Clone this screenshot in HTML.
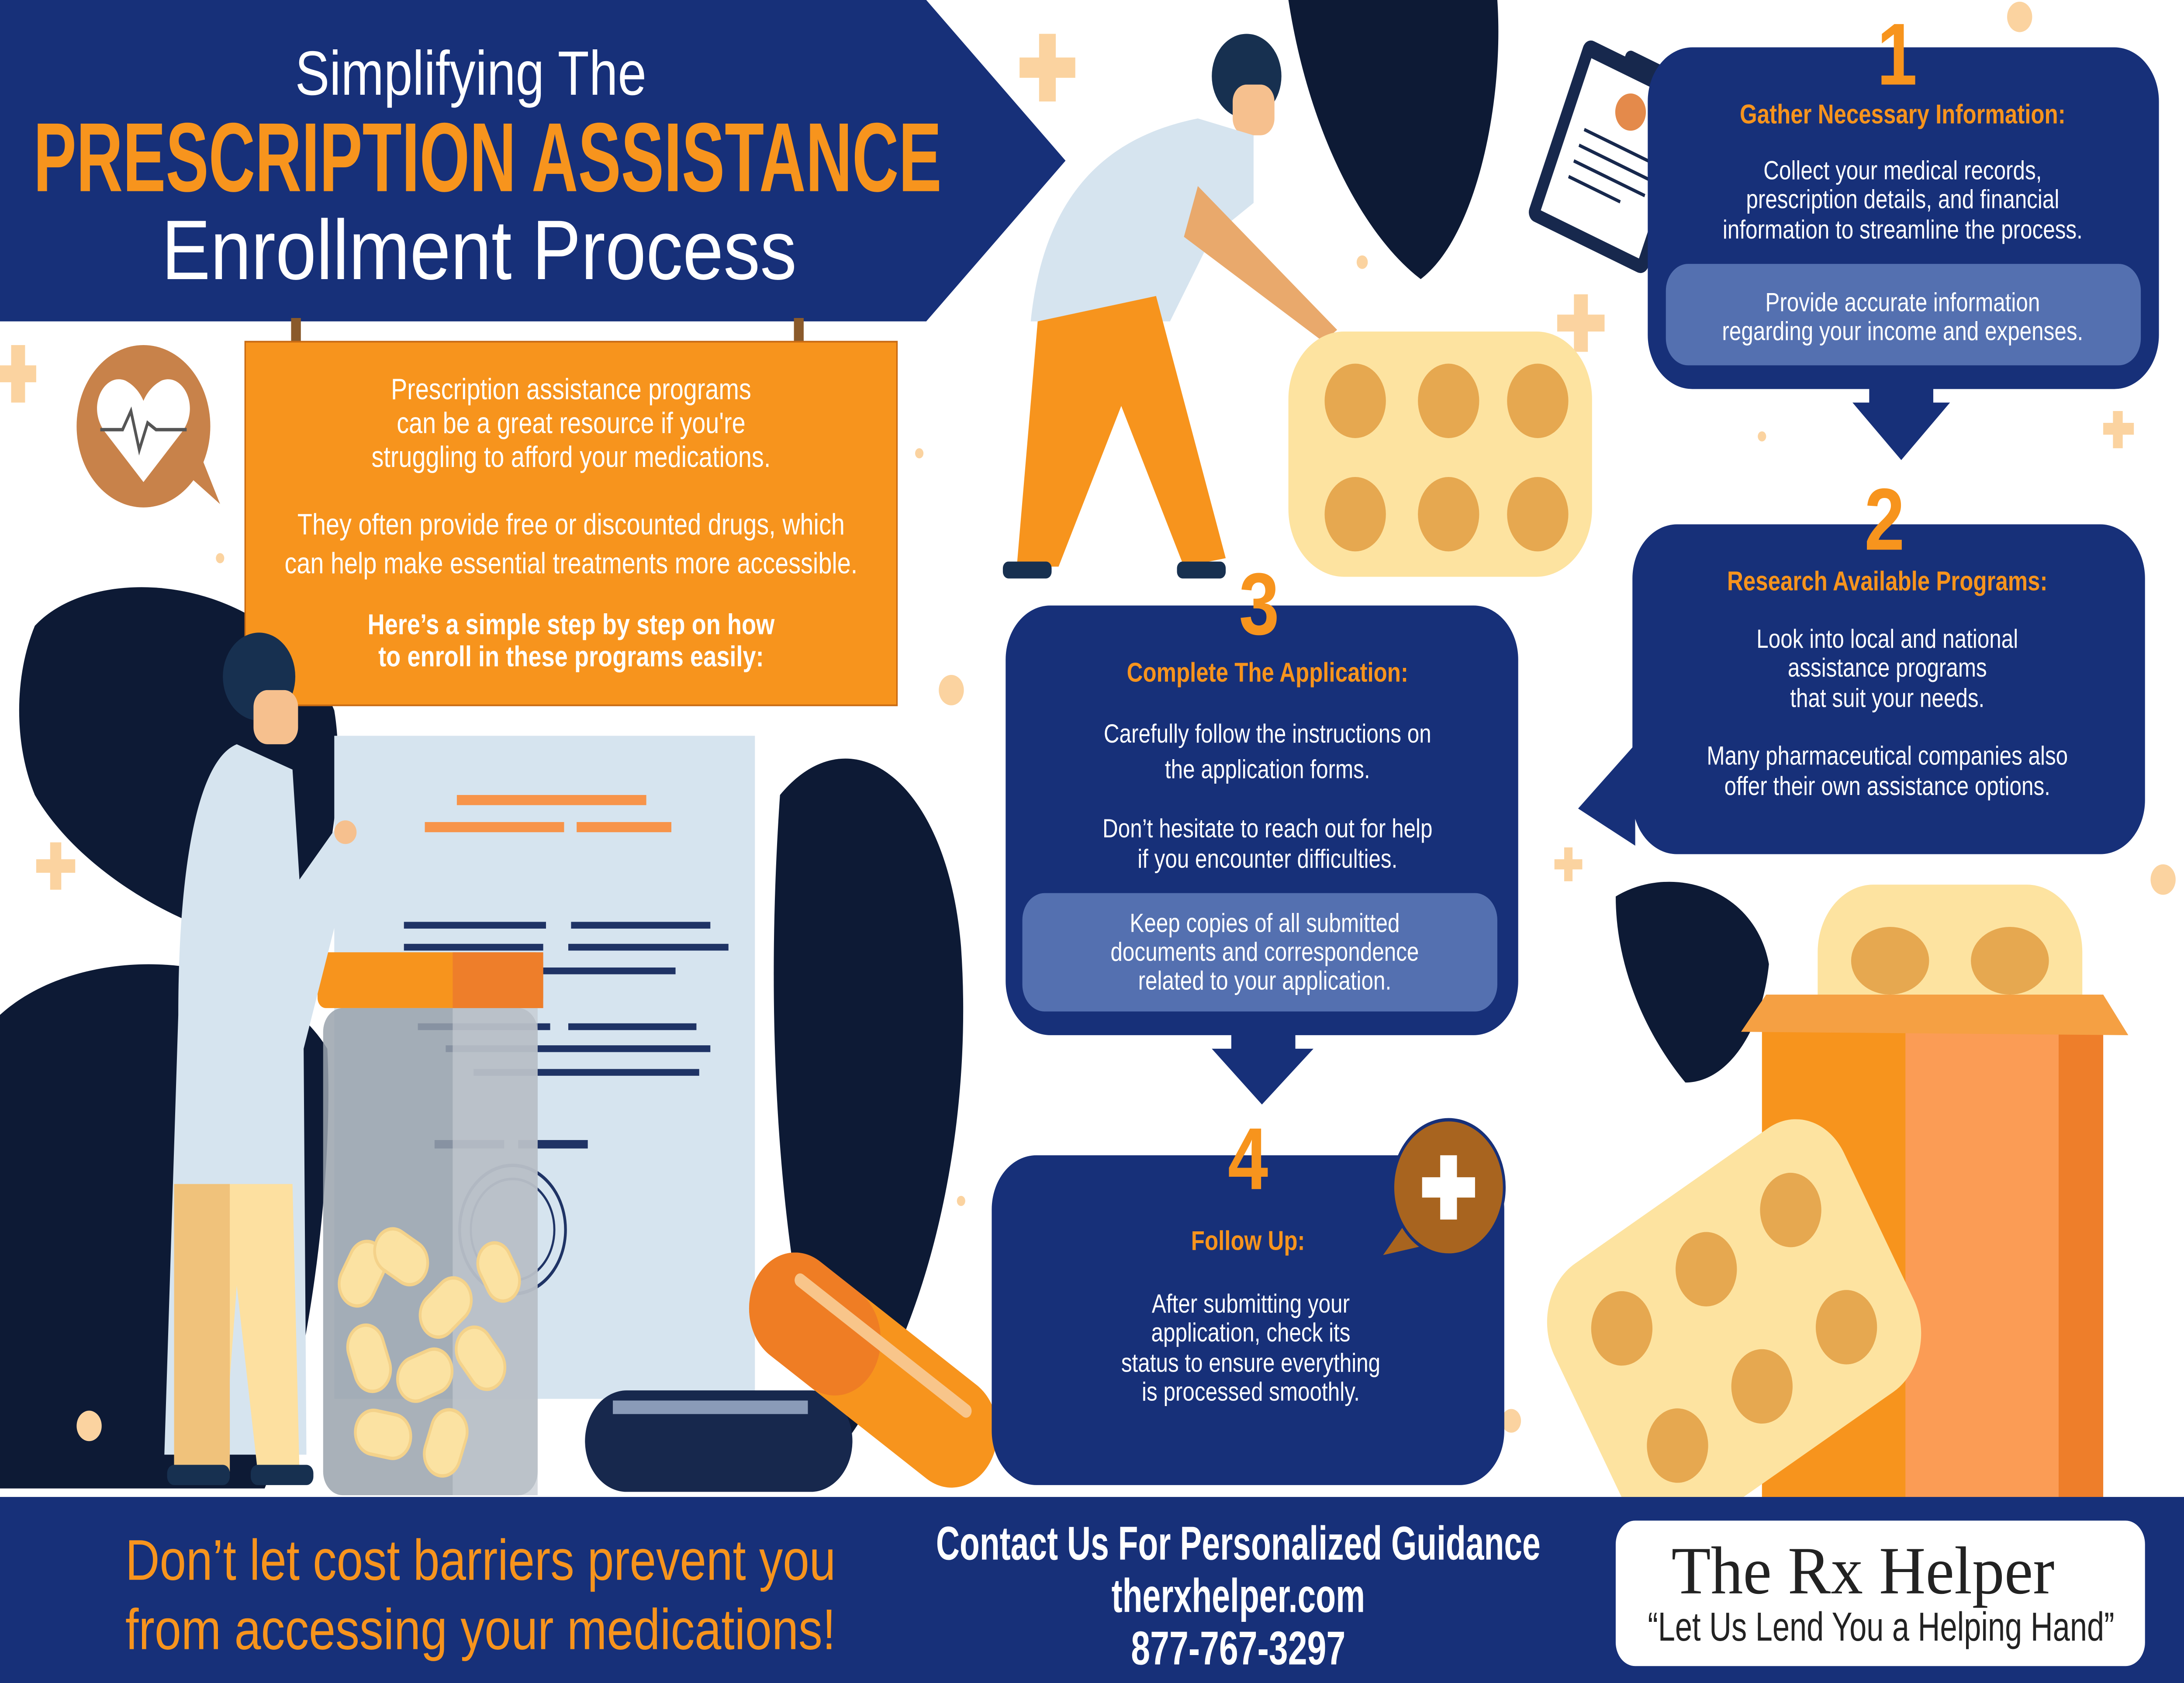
<!DOCTYPE html>
<html><head><meta charset="utf-8">
<style>
html,body{margin:0;padding:0;width:100%;height:100%;overflow:hidden;background:#fff}
svg{display:block;width:100vw;height:100vh}
text{font-family:"Liberation Sans",sans-serif}
.w{fill:#fff}
.h{fill:#f7941d;font-weight:bold;font-size:16px}
.t{fill:#fff;font-size:15.5px}
.n{fill:#f7941d;font-weight:bold;font-size:52px}
</style></head><body>
<svg viewBox="0 0 1568 995" preserveAspectRatio="none">
 <rect width="1568" height="995" fill="#fff"/>
 <g fill="#0d1a35">
  <path d="M25 370 C70 330 200 340 240 420 C250 470 230 540 215 560 C150 560 60 520 25 470 C10 440 10 400 25 370Z"/>
  <path d="M0 600 C60 555 190 560 235 620 C240 700 220 820 190 880 L0 880Z"/>
  <path d="M560 470 C610 420 680 460 690 560 C700 680 660 800 600 860 C570 790 545 650 560 470Z"/>
  <path d="M925 0 L1075 0 C1080 60 1060 140 1020 165 C980 140 940 80 925 0Z"/>
  <path d="M1160 530 C1200 510 1260 525 1270 570 C1265 610 1240 640 1210 640 C1180 610 1160 570 1160 530Z"/>
 </g>
 <polygon points="0,0 665,0 765,95 665,190 0,190" fill="#173079"/>
 <rect x="209" y="188" width="7" height="16" fill="#8a5a2b"/><rect x="570" y="188" width="7" height="16" fill="#8a5a2b"/>
 <g fill="#fbd3a0">
  <rect x="732" y="34" width="40" height="12"/><rect x="746" y="20" width="12" height="40"/>
  <rect x="1118" y="186" width="34" height="10"/><rect x="1130" y="174" width="10" height="34"/>
  <rect x="0" y="216" width="26" height="10"/><rect x="8" y="204" width="10" height="34"/>
  <rect x="26" y="508" width="28" height="8"/><rect x="36" y="498" width="8" height="28"/>
  <rect x="1510" y="250" width="22" height="7"/><rect x="1517" y="243" width="7" height="22"/>
  <rect x="1116" y="508" width="20" height="6"/><rect x="1123" y="501" width="6" height="20"/>
  <circle cx="683" cy="408" r="9"/><circle cx="1450" cy="10" r="9"/><circle cx="1553" cy="520" r="9"/><circle cx="64" cy="843" r="9"/><circle cx="978" cy="155" r="4"/><circle cx="660" cy="268" r="3"/><circle cx="158" cy="330" r="3"/><circle cx="1265" cy="258" r="3"/><circle cx="690" cy="710" r="3"/><circle cx="1085" cy="840" r="7"/>
 </g>
 <polygon points="120,270 158,298 130,240" fill="#c8824a"/>
 <circle cx="103" cy="252" r="48" fill="#c8824a"/>
 <path d="M103 285 L75 255 C62 240 75 220 90 225 C97 228 101 233 103 237 C105 233 109 228 116 225 C131 220 144 240 131 255Z" fill="#fff"/>
 <polyline points="72,254 88,254 94,243 100,266 106,250 112,254 134,254" fill="none" stroke="#555" stroke-width="2"/>
 <rect x="240" y="435" width="302" height="392" fill="#d6e4ef"/>
 <rect x="328" y="470" width="136" height="6" fill="#f7944a"/>
 <rect x="305" y="486" width="100" height="6" fill="#f7944a"/><rect x="414" y="486" width="68" height="6" fill="#f7944a"/>
 <g fill="#1f3365"><rect x="290" y="545" width="102" height="4"/><rect x="410" y="545" width="100" height="4"/><rect x="290" y="558" width="100" height="4"/><rect x="408" y="558" width="115" height="4"/><rect x="300" y="572" width="185" height="4"/><rect x="300" y="605" width="95" height="4"/><rect x="408" y="605" width="92" height="4"/><rect x="320" y="618" width="190" height="4"/><rect x="340" y="632" width="162" height="4"/><rect x="312" y="674" width="50" height="5"/><rect x="372" y="674" width="50" height="5"/></g>
 <circle cx="368" cy="727" r="38" fill="none" stroke="#1f3365" stroke-width="2"/><circle cx="368" cy="727" r="30" fill="none" stroke="#1f3365" stroke-width="1.5"/>
 <rect x="228" y="563" width="162" height="33" rx="6" fill="#f7941d"/><rect x="325" y="563" width="65" height="33" fill="#ee7e2a"/>
 <rect x="232" y="596" width="154" height="288" rx="14" fill="#9aa3ad" opacity="0.85"/>
 <rect x="325" y="596" width="61" height="288" fill="#c3c9d0" opacity="0.7"/>
 <g fill="#fbe2a2" stroke="#f4d28a" stroke-width="2">
  <rect x="240" y="740" width="40" height="26" rx="13" transform="rotate(-60 260 753)"/>
  <rect x="268" y="730" width="40" height="26" rx="13" transform="rotate(30 288 743)"/>
  <rect x="300" y="760" width="40" height="26" rx="13" transform="rotate(-40 320 773)"/>
  <rect x="245" y="790" width="40" height="26" rx="13" transform="rotate(70 265 803)"/>
  <rect x="285" y="800" width="40" height="26" rx="13" transform="rotate(-20 305 813)"/>
  <rect x="325" y="790" width="40" height="26" rx="13" transform="rotate(50 345 803)"/>
  <rect x="255" y="835" width="40" height="26" rx="13" transform="rotate(10 275 848)"/>
  <rect x="300" y="840" width="40" height="26" rx="13" transform="rotate(-70 320 853)"/>
  <rect x="340" y="740" width="36" height="24" rx="12" transform="rotate(60 358 752)"/>
 </g>
 <path d="M170 440 C140 450 128 520 128 600 L118 860 L220 860 L218 620 L255 500 L245 485 L215 520 L210 455Z" fill="#d6e4ef"/>
 <path d="M125 700 L125 870 L160 870 L170 760 L185 870 L215 870 L210 700Z" fill="#fde0a0"/>
 <rect x="125" y="700" width="40" height="170" fill="#f0c27b"/>
 <ellipse cx="248" cy="492" rx="8" ry="7" fill="#f6c08e"/>
 <rect x="120" y="866" width="45" height="12" rx="5" fill="#173050"/><rect x="180" y="866" width="45" height="12" rx="5" fill="#173050"/>
 <rect x="420" y="822" width="192" height="60" rx="30" fill="#17284d"/><rect x="440" y="828" width="140" height="8" fill="#8a9bb8"/>
 <g transform="rotate(33 627 810)"><rect x="527" y="777" width="200" height="66" rx="33" fill="#f7941d"/><rect x="527" y="777" width="100" height="66" rx="33" fill="#ef7d24"/><rect x="550" y="790" width="150" height="8" rx="4" fill="#f8c58a"/></g>
 <circle cx="895" cy="45" r="25" fill="#173050"/>
 <rect x="885" y="50" width="30" height="30" rx="10" fill="#f6c08e"/>
 <path d="M860 70 C800 80 750 110 740 190 L840 190 L870 140 L900 120 L900 80Z" fill="#d6e4ef"/>
 <path d="M860 110 L960 195 L950 202 L850 140Z" fill="#e9a96c"/>
 <path d="M745 190 L830 175 L880 330 L850 335 L805 240 L760 335 L730 335Z" fill="#f7941d"/>
 <rect x="720" y="332" width="35" height="10" rx="4" fill="#173050"/><rect x="845" y="332" width="35" height="10" rx="4" fill="#173050"/>
 <rect x="925" y="196" width="218" height="145" rx="40" fill="#fde3a0"/>
 <g fill="#e6a850"><circle cx="973" cy="237" r="22"/><circle cx="1040" cy="237" r="22"/><circle cx="1104" cy="237" r="22"/><circle cx="973" cy="304" r="22"/><circle cx="1040" cy="304" r="22"/><circle cx="1104" cy="304" r="22"/></g>
 <g transform="rotate(22 1160 90)"><rect x="1115" y="35" width="92" height="115" rx="6" fill="#17284d"/><rect x="1123" y="45" width="76" height="97" fill="#fff"/><rect x="1145" y="30" width="32" height="14" rx="4" fill="#17284d"/><circle cx="1161" cy="64" r="11" fill="#e48a4b"/><rect x="1134" y="85" width="55" height="2" fill="#17284d"/><rect x="1134" y="95" width="55" height="2" fill="#17284d"/><rect x="1134" y="105" width="55" height="2" fill="#17284d"/><rect x="1134" y="115" width="40" height="2" fill="#17284d"/></g>
 <rect x="1305" y="523" width="190" height="110" rx="40" fill="#fde3a0"/>
 <g fill="#e6a850"><ellipse cx="1357" cy="568" rx="28" ry="20"/><ellipse cx="1443" cy="568" rx="28" ry="20"/></g>
 <rect x="1265" y="610" width="245" height="275" fill="#f7941d"/><rect x="1368" y="610" width="110" height="275" fill="#fb9c55"/><rect x="1478" y="610" width="32" height="275" fill="#ee7e2a"/>
 <polygon points="1250,610 1268,588 1510,588 1528,612" fill="#f5a043"/>
 <g transform="rotate(-30 1245 785)"><rect x="1125" y="695" width="240" height="180" rx="40" fill="#fde3a0"/><g fill="#e6a850"><circle cx="1175" cy="745" r="22"/><circle cx="1245" cy="745" r="22"/><circle cx="1315" cy="745" r="22"/><circle cx="1175" cy="825" r="22"/><circle cx="1245" cy="825" r="22"/><circle cx="1315" cy="825" r="22"/></g></g>

 <rect x="176" y="202" width="468" height="215" fill="#f7941d" stroke="#c86a12" stroke-width="1"/>
 <g text-anchor="middle">
  <text x="410" y="236" class="w" font-size="17.5">Prescription assistance programs</text>
  <text x="410" y="256" class="w" font-size="17.5">can be a great resource if you're</text>
  <text x="410" y="276" class="w" font-size="17.5">struggling to afford your medications.</text>
  <text x="410" y="316" class="w" font-size="17.5">They often provide free or discounted drugs, which</text>
  <text x="410" y="339" class="w" font-size="17.5">can help make essential treatments more accessible.</text>
  <text x="410" y="375" class="w" font-size="17" font-weight="bold">Here’s a simple step by step on how</text>
  <text x="410" y="394" class="w" font-size="17" font-weight="bold">to enroll in these programs easily:</text>
 </g>
 <!-- doctor head in front of box -->
 <circle cx="186" cy="400" r="26" fill="#173050"/>
 <rect x="182" y="408" width="32" height="32" rx="10" fill="#f6c08e"/>

 <text x="338" y="56" text-anchor="middle" class="w" font-size="37">Simplifying The</text>
 <text x="24" y="113" fill="#f7941d" font-size="58" font-weight="bold" textLength="652" lengthAdjust="spacingAndGlyphs">PRESCRIPTION ASSISTANCE</text>
 <text x="116" y="165" class="w" font-size="50" textLength="456" lengthAdjust="spacingAndGlyphs">Enrollment Process</text>

 <rect x="1183" y="28" width="367" height="202" rx="32" fill="#173079"/>
 <rect x="1196" y="156" width="341" height="60" rx="16" fill="#5470b0"/>
 <rect x="1172" y="310" width="368" height="195" rx="32" fill="#173079"/>
 <rect x="722" y="358" width="368" height="254" rx="32" fill="#173079"/>
 <rect x="734" y="528" width="341" height="70" rx="16" fill="#5470b0"/>
 <rect x="712" y="683" width="368" height="195" rx="32" fill="#173079"/>
 <polygon points="1342,228 1388,228 1388,238 1400,238 1365,272 1330,238 1342,238" fill="#173079"/>
 <polygon points="1174,440 1174,500 1133,478" fill="#173079"/>
 <polygon points="884,610 930,610 930,620 943,620 906,653 870,620 884,620" fill="#173079"/>
 <polygon points="1010,722 993,742 1030,735" fill="#a8641f"/>
 <circle cx="1040" cy="702" r="40" fill="#a8641f" stroke="#173079" stroke-width="2"/>
 <rect x="1021" y="696" width="38" height="12" fill="#fff"/><rect x="1034" y="683" width="12" height="38" fill="#fff"/>

 <g text-anchor="middle">
  <text x="1362" y="50" class="n">1</text>
  <text x="1366" y="73" class="h">Gather Necessary Information:</text>
  <text x="1366" y="106" class="t">Collect your medical records,</text>
  <text x="1366" y="123" class="t">prescription details, and financial</text>
  <text x="1366" y="141" class="t">information to streamline the process.</text>
  <text x="1366" y="184" class="t">Provide accurate information</text>
  <text x="1366" y="201" class="t">regarding your income and expenses.</text>
  <text x="1353" y="325" class="n">2</text>
  <text x="1355" y="349" class="h">Research Available Programs:</text>
  <text x="1355" y="383" class="t">Look into local and national</text>
  <text x="1355" y="400" class="t">assistance programs</text>
  <text x="1355" y="418" class="t">that suit your needs.</text>
  <text x="1355" y="452" class="t">Many pharmaceutical companies also</text>
  <text x="1355" y="470" class="t">offer their own assistance options.</text>
  <text x="904" y="375" class="n">3</text>
  <text x="910" y="403" class="h">Complete The Application:</text>
  <text x="910" y="439" class="t">Carefully follow the instructions on</text>
  <text x="910" y="460" class="t">the application forms.</text>
  <text x="910" y="495" class="t">Don’t hesitate to reach out for help</text>
  <text x="910" y="513" class="t">if you encounter difficulties.</text>
  <text x="908" y="551" class="t">Keep copies of all submitted</text>
  <text x="908" y="568" class="t">documents and correspondence</text>
  <text x="908" y="585" class="t">related to your application.</text>
  <text x="896" y="703" class="n">4</text>
  <text x="896" y="739" class="h">Follow Up:</text>
  <text x="898" y="776" class="t">After submitting your</text>
  <text x="898" y="793" class="t">application, check its</text>
  <text x="898" y="811" class="t">status to ensure everything</text>
  <text x="898" y="828" class="t">is processed smoothly.</text>
 </g>

 <rect x="0" y="885" width="1568" height="110" fill="#173079"/>
 <text x="90" y="934" fill="#f7941d" font-size="34" textLength="510" lengthAdjust="spacingAndGlyphs">Don’t let cost barriers prevent you</text>
 <text x="90" y="975" fill="#f7941d" font-size="34" textLength="510" lengthAdjust="spacingAndGlyphs">from accessing your medications!</text>
 <text x="672" y="922" class="w" font-size="28" font-weight="bold" textLength="434" lengthAdjust="spacingAndGlyphs">Contact Us For Personalized Guidance</text>
 <text x="798" y="953" class="w" font-size="28" font-weight="bold" textLength="182" lengthAdjust="spacingAndGlyphs">therxhelper.com</text>
 <text x="812" y="984" class="w" font-size="28" font-weight="bold" textLength="154" lengthAdjust="spacingAndGlyphs">877-767-3297</text>
 <rect x="1160" y="899" width="380" height="86" rx="14" fill="#fff"/>
 <text x="1200" y="942" fill="#222" font-size="40" style="font-family:'Liberation Serif',serif" textLength="275" lengthAdjust="spacingAndGlyphs">The Rx Helper</text>
 <text x="1183" y="970" fill="#222" font-size="24" textLength="335" lengthAdjust="spacingAndGlyphs">“Let Us Lend You a Helping Hand”</text>
</svg>
</body></html>
